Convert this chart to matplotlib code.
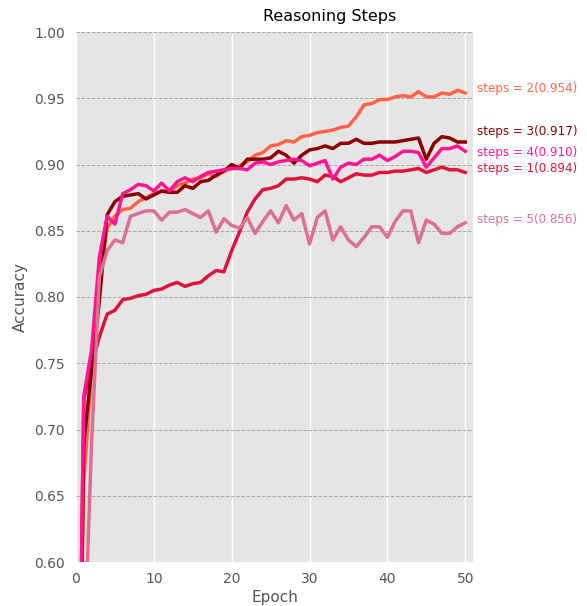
import matplotlib
matplotlib.use("Agg")
import matplotlib.pyplot as plt

# Données (précision par époque)
epochs = list(range(0, 51))

steps_1 = [0.30, 0.723, 0.748, 0.770, 0.787, 0.790, 0.798, 0.799, 0.801, 0.802,
           0.805, 0.806, 0.809, 0.811, 0.808, 0.810, 0.811, 0.816, 0.820, 0.819,
           0.835, 0.849, 0.864, 0.874, 0.881, 0.882, 0.884, 0.889, 0.889, 0.890,
           0.889, 0.887, 0.892, 0.891, 0.887, 0.890, 0.893, 0.892, 0.892, 0.894,
           0.894, 0.895, 0.895, 0.896, 0.897, 0.894, 0.896, 0.898, 0.896, 0.896,
           0.894]
steps_2 = [0.35, 0.66, 0.745, 0.815, 0.852, 0.861, 0.866, 0.867, 0.872, 0.875,
           0.878, 0.880, 0.879, 0.884, 0.886, 0.889, 0.890, 0.893, 0.891, 0.895,
           0.897, 0.899, 0.902, 0.907, 0.909, 0.914, 0.915, 0.918, 0.917, 0.921,
           0.922, 0.924, 0.925, 0.926, 0.928, 0.929, 0.936, 0.945, 0.946, 0.949,
           0.949, 0.951, 0.952, 0.951, 0.955, 0.951, 0.951, 0.954, 0.953, 0.956,
           0.954]
steps_3 = [0.30, 0.69, 0.745, 0.797, 0.862, 0.872, 0.876, 0.877, 0.878, 0.874,
           0.877, 0.880, 0.879, 0.879, 0.884, 0.882, 0.887, 0.888, 0.892, 0.895,
           0.900, 0.897, 0.904, 0.904, 0.904, 0.905, 0.910, 0.907, 0.901, 0.907,
           0.911, 0.912, 0.914, 0.912, 0.916, 0.916, 0.919, 0.916, 0.916, 0.917,
           0.917, 0.917, 0.918, 0.919, 0.920, 0.904, 0.916, 0.921, 0.920, 0.917,
           0.917]
steps_4 = [0.30, 0.725, 0.76, 0.830, 0.861, 0.855, 0.878, 0.881, 0.885, 0.884,
           0.880, 0.886, 0.880, 0.887, 0.890, 0.887, 0.891, 0.894, 0.895, 0.896,
           0.897, 0.897, 0.896, 0.901, 0.902, 0.900, 0.902, 0.903, 0.904, 0.903,
           0.899, 0.901, 0.903, 0.889, 0.898, 0.901, 0.900, 0.904, 0.904, 0.907,
           0.903, 0.906, 0.910, 0.910, 0.909, 0.898, 0.905, 0.912, 0.912, 0.914,
           0.910]
steps_5 = [0.30, 0.52, 0.69, 0.815, 0.835, 0.843, 0.841, 0.861, 0.863, 0.865,
           0.865, 0.858, 0.864, 0.864, 0.866, 0.863, 0.860, 0.865, 0.849, 0.859,
           0.854, 0.852, 0.860, 0.848, 0.857, 0.865, 0.856, 0.869, 0.858, 0.863,
           0.840, 0.860, 0.865, 0.843, 0.853, 0.843, 0.838, 0.845, 0.853, 0.853,
           0.845, 0.857, 0.865, 0.865, 0.841, 0.858, 0.855, 0.848, 0.848, 0.853,
           0.856]

series_names = ['steps = 1', 'steps = 2', 'steps = 3', 'steps = 4', 'steps = 5']
final_values = [0.894, 0.954, 0.917, 0.910, 0.856]
colors = ['#DC143C', '#FF6347', '#8B0000', '#FF1493', '#DB7093']
# décalage vertical des étiquettes pour éviter les chevauchements
label_offsets = [0.003, 0.0036, 0.0078, -0.001, 0.0026]

all_series = [steps_1, steps_2, steps_3, steps_4, steps_5]

plt.style.use('ggplot')
fig = plt.figure(figsize=(5.87, 6.06), dpi=100)
ax = fig.add_axes([76 / 587, 44 / 606, 397 / 587, 530 / 606])
ax.set_facecolor('#E5E5E5')

for vals, name, col in zip(all_series, series_names, colors):
    ax.plot(epochs, vals, color=col, linewidth=2.5, label=name)

# Étiquettes à droite
for name, fv, col, off in zip(series_names, final_values, colors, label_offsets):
    ax.text(51.5, fv + off, f'{name}({fv:.3f})', color=col, fontsize=8.6,
            va='center', ha='left', clip_on=False)

ax.set_xlim(0, 51)
ax.set_ylim(0.6, 1.0)
ax.set_xticks([0, 10, 20, 30, 40, 50])
ax.set_yticks([0.60, 0.65, 0.70, 0.75, 0.80, 0.85, 0.90, 0.95, 1.00])
ax.set_yticklabels([f'{v:.2f}' for v in ax.get_yticks()])

ax.grid(False)
ax.grid(axis='x', color='white', linestyle='-', linewidth=1)
ax.grid(axis='y', color='#aaaaaa', linestyle='--', linewidth=0.7)
for s in ax.spines.values():
    s.set_visible(False)

ax.tick_params(axis='both', length=0, labelsize=10, labelcolor='#555555')
ax.tick_params(axis='y', pad=8)
ax.tick_params(axis='x', pad=7)

ax.set_xlabel('Epoch', fontsize=11, color='#555555')
ax.set_ylabel('Accuracy', fontsize=11, color='#555555')
ax.xaxis.set_label_coords(0.5, -0.053)
ax.yaxis.set_label_coords(-0.120, 0.5)

fig.text(330 / 587, 1 - 17 / 606, 'Reasoning Steps', ha='center', va='center',
         fontsize=11.5, color='black')

fig.savefig('out.png', dpi=100)
